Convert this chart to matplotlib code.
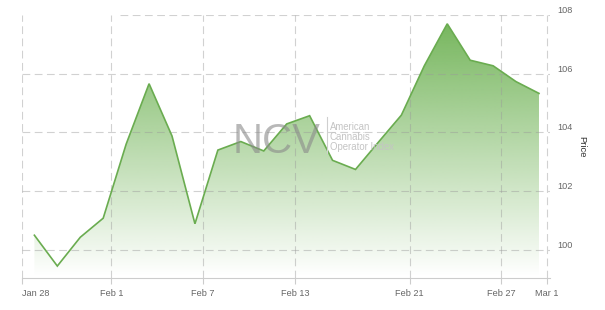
import numpy as np
import matplotlib.pyplot as plt
import matplotlib.transforms as mtransforms

# closing values of the index, one per trading day
prices = [100.5, 99.45, 100.43, 101.08, 103.6, 105.66, 103.88, 100.89,
          103.40, 103.69, 103.37, 104.29, 104.57, 103.05, 102.74, 103.67,
          104.59, 106.27, 107.70, 106.46, 106.27, 105.73, 105.33]
tick_labels = ['Jan 28', 'Feb 1', 'Feb 7', 'Feb 13', 'Feb 21', 'Feb 27', 'Mar 1']
tick_days = [0, 4, 8, 12, 17, 21, 23]   # trading-day ordinal of each label
y_ticks = [100, 102, 104, 106, 108]

plt.rcParams['font.family'] = ['Liberation Sans', 'DejaVu Sans']

W, H = 605, 310
fig = plt.figure(figsize=(W / 100, H / 100), dpi=100)
ax = fig.add_axes([22 / W, 1 - 277.5 / H, (550 - 22) / W, (277.5 - 15) / H])

x = np.arange(len(prices))
y = np.array(prices)
x0, x1 = -0.54, 22.48
y0, y1 = 99.06, 108.0
ax.set_xlim(x0, x1)
ax.set_ylim(y0, y1)

# gradient area under the line
poly = ax.fill_between(x, y, y0, color='none', lw=0)
grad = np.ones((256, 1, 4))
base = np.array([0x72, 0xb4, 0x58]) / 255
grad[:, 0, :3] = base
grad[:, 0, 3] = np.linspace(0.0, 1.0, 256)
img = ax.imshow(grad, extent=[x0, x1, y0, y1], origin='lower', aspect='auto',
                zorder=1, interpolation='bilinear')
img.set_clip_path(poly.get_paths()[0], transform=ax.transData)
ax.plot(x, y, color='#6aac50', lw=1.2, zorder=4, solid_joinstyle='miter')

# grid (semi-transparent so it shows through the area)
tick_pos = [max(d - 0.64, x0) for d in tick_days]
grid_kw = dict(color='#9a9a9a', alpha=0.45, lw=0.8, ls=(0, (7, 4)), zorder=2)
for p in tick_pos:
    ax.axvline(p, **grid_kw)
for v in y_ticks:
    ax.axhline(v, xmin=0.186 if v == y_ticks[-1] else 0, **grid_kw)

for s in ['top', 'left', 'right']:
    ax.spines[s].set_visible(False)
ax.spines['bottom'].set_color('#cccccc')
ax.spines['bottom'].set_linewidth(0.8)

ax.set_xticks(tick_pos)
ax.set_xticklabels(tick_labels)
ax.tick_params(axis='x', length=4.5, color='#cccccc', width=0.8, pad=4,
               labelsize=6.6, labelcolor='#666666')
ax.get_xticklabels()[0].set_ha('left')

ax.yaxis.tick_right()
ax.yaxis.set_label_position('right')
ax.set_yticks(y_ticks)
ax.tick_params(axis='y', length=0, pad=5, labelsize=6.6, labelcolor='#666666')
shift = mtransforms.ScaledTranslation(0, 4 / 72, fig.dpi_scale_trans)
for lab in ax.get_yticklabels():
    lab.set_transform(lab.get_transform() + shift)
ax.set_ylabel('Price', rotation=-90, fontsize=6.8, color='#333333', labelpad=10)

# watermark
fig.text(233 / W, 1 - 153 / H, 'NCV', fontsize=30, color='#8a8a8a', alpha=0.6,
         ha='left', va='baseline', zorder=3)
fig.add_artist(plt.Line2D([327 / W, 327 / W], [1 - 117 / H, 1 - 153 / H],
                          color='#cfcfcf', lw=0.8))
for i, t in enumerate(['American', 'Cannabis', 'Operator Index']):
    fig.text(330 / W, 1 - (126.5 + 10.3 * i) / H, t, fontsize=6.9,
             color='#c4c4c4', ha='left', va='center')

fig.savefig('out.png', dpi=100)
